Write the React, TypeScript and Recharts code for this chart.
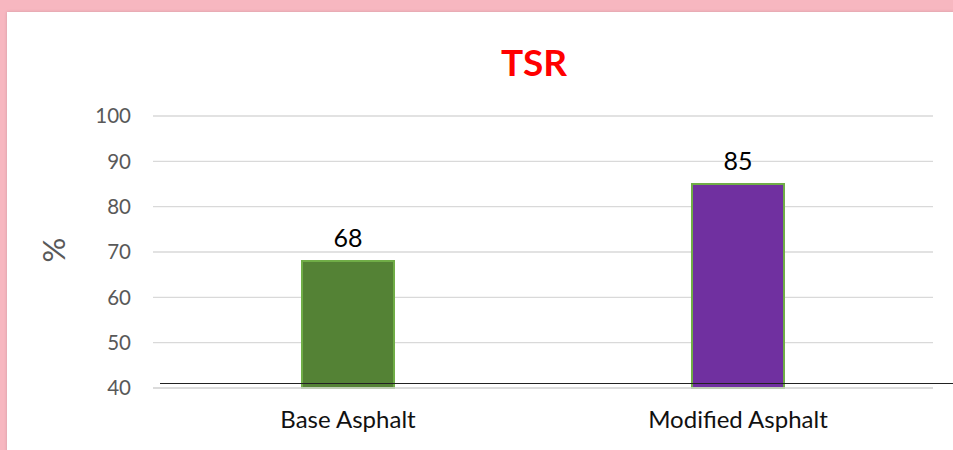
import { BarChart, Bar, XAxis, YAxis, CartesianGrid, LabelList, Cell } from "recharts";

const categories = ["Base Asphalt", "Modified Asphalt"];
const tsrValues = [68, 85];
const barColors = ["#548235", "#7030A0"];
const yTicks = [40, 50, 60, 70, 80, 90, 100];

const FONT = "Lato, 'Open Sans', sans-serif";

// rotated "%" axis title, centred on the plot height
function PercentLabel(props: any) {
  const vb = props.viewBox || {};
  const cx = vb.x + 20;
  const cy = vb.y + vb.height / 2 - 2;
  return (
    <text
      x={cx}
      y={cy}
      transform={`rotate(-90, ${cx}, ${cy})`}
      textAnchor="middle"
      dominantBaseline="central"
      fill="#595959"
      fontSize={31}
      fontFamily={FONT}
    >
      %
    </text>
  );
}

export default function App() {
  const data = categories.map((name, i) => ({ name, value: tsrValues[i] }));

  return (
    <div style={{ position: "absolute", left: 0, top: 0, width: 953, height: 450, background: "#F7B7C0", overflow: "hidden" }}>
      <div
        style={{
          position: "absolute",
          left: 7,
          top: 12,
          width: 960,
          height: 450,
          background: "#ffffff",
          boxShadow: "0 0 3px rgba(0,0,0,0.15)",
        }}
      />
      <div
        style={{
          position: "absolute",
          left: 434,
          width: 200,
          top: 40,
          textAlign: "center",
          fontFamily: FONT,
          fontWeight: 700,
          fontSize: 37,
          color: "#FF0000",
          lineHeight: "44px",
        }}
      >
        TSR
      </div>
      <div style={{ position: "absolute", left: 0, top: 0 }}>
        <BarChart width={953} height={450} data={data} margin={{ top: 116, right: 20, bottom: 32, left: 33 }}>
          <CartesianGrid horizontal vertical={false} stroke="#D9D9D9" strokeWidth={1.3} />
          <XAxis
            dataKey="name"
            axisLine={{ stroke: "#D9D9D9", strokeWidth: 1.3 }}
            tickLine={false}
            tickMargin={17}
            tick={{ fill: "#111111", fontSize: 24, fontFamily: FONT }}
          />
          <YAxis
            domain={[40, 100]}
            ticks={yTicks}
            width={120}
            axisLine={false}
            tickLine={false}
            tickSize={0}
            tickMargin={22}
            tick={{ fill: "#595959", fontSize: 20.5, fontFamily: FONT }}
            label={{ content: PercentLabel }}
          />
          <Bar dataKey="value" barSize={92} stroke="#70AD47" strokeWidth={2} isAnimationActive={false}>
            {data.map((d, i) => (
              <Cell key={d.name} fill={barColors[i]} />
            ))}
            <LabelList dataKey="value" position="top" offset={14} fill="#000000" fontSize={25} fontFamily={FONT} />
          </Bar>
        </BarChart>
      </div>
      <div style={{ position: "absolute", left: 160, top: 383, width: 800, height: 0, borderTop: "1.5px solid #222222" }} />
    </div>
  );
}
